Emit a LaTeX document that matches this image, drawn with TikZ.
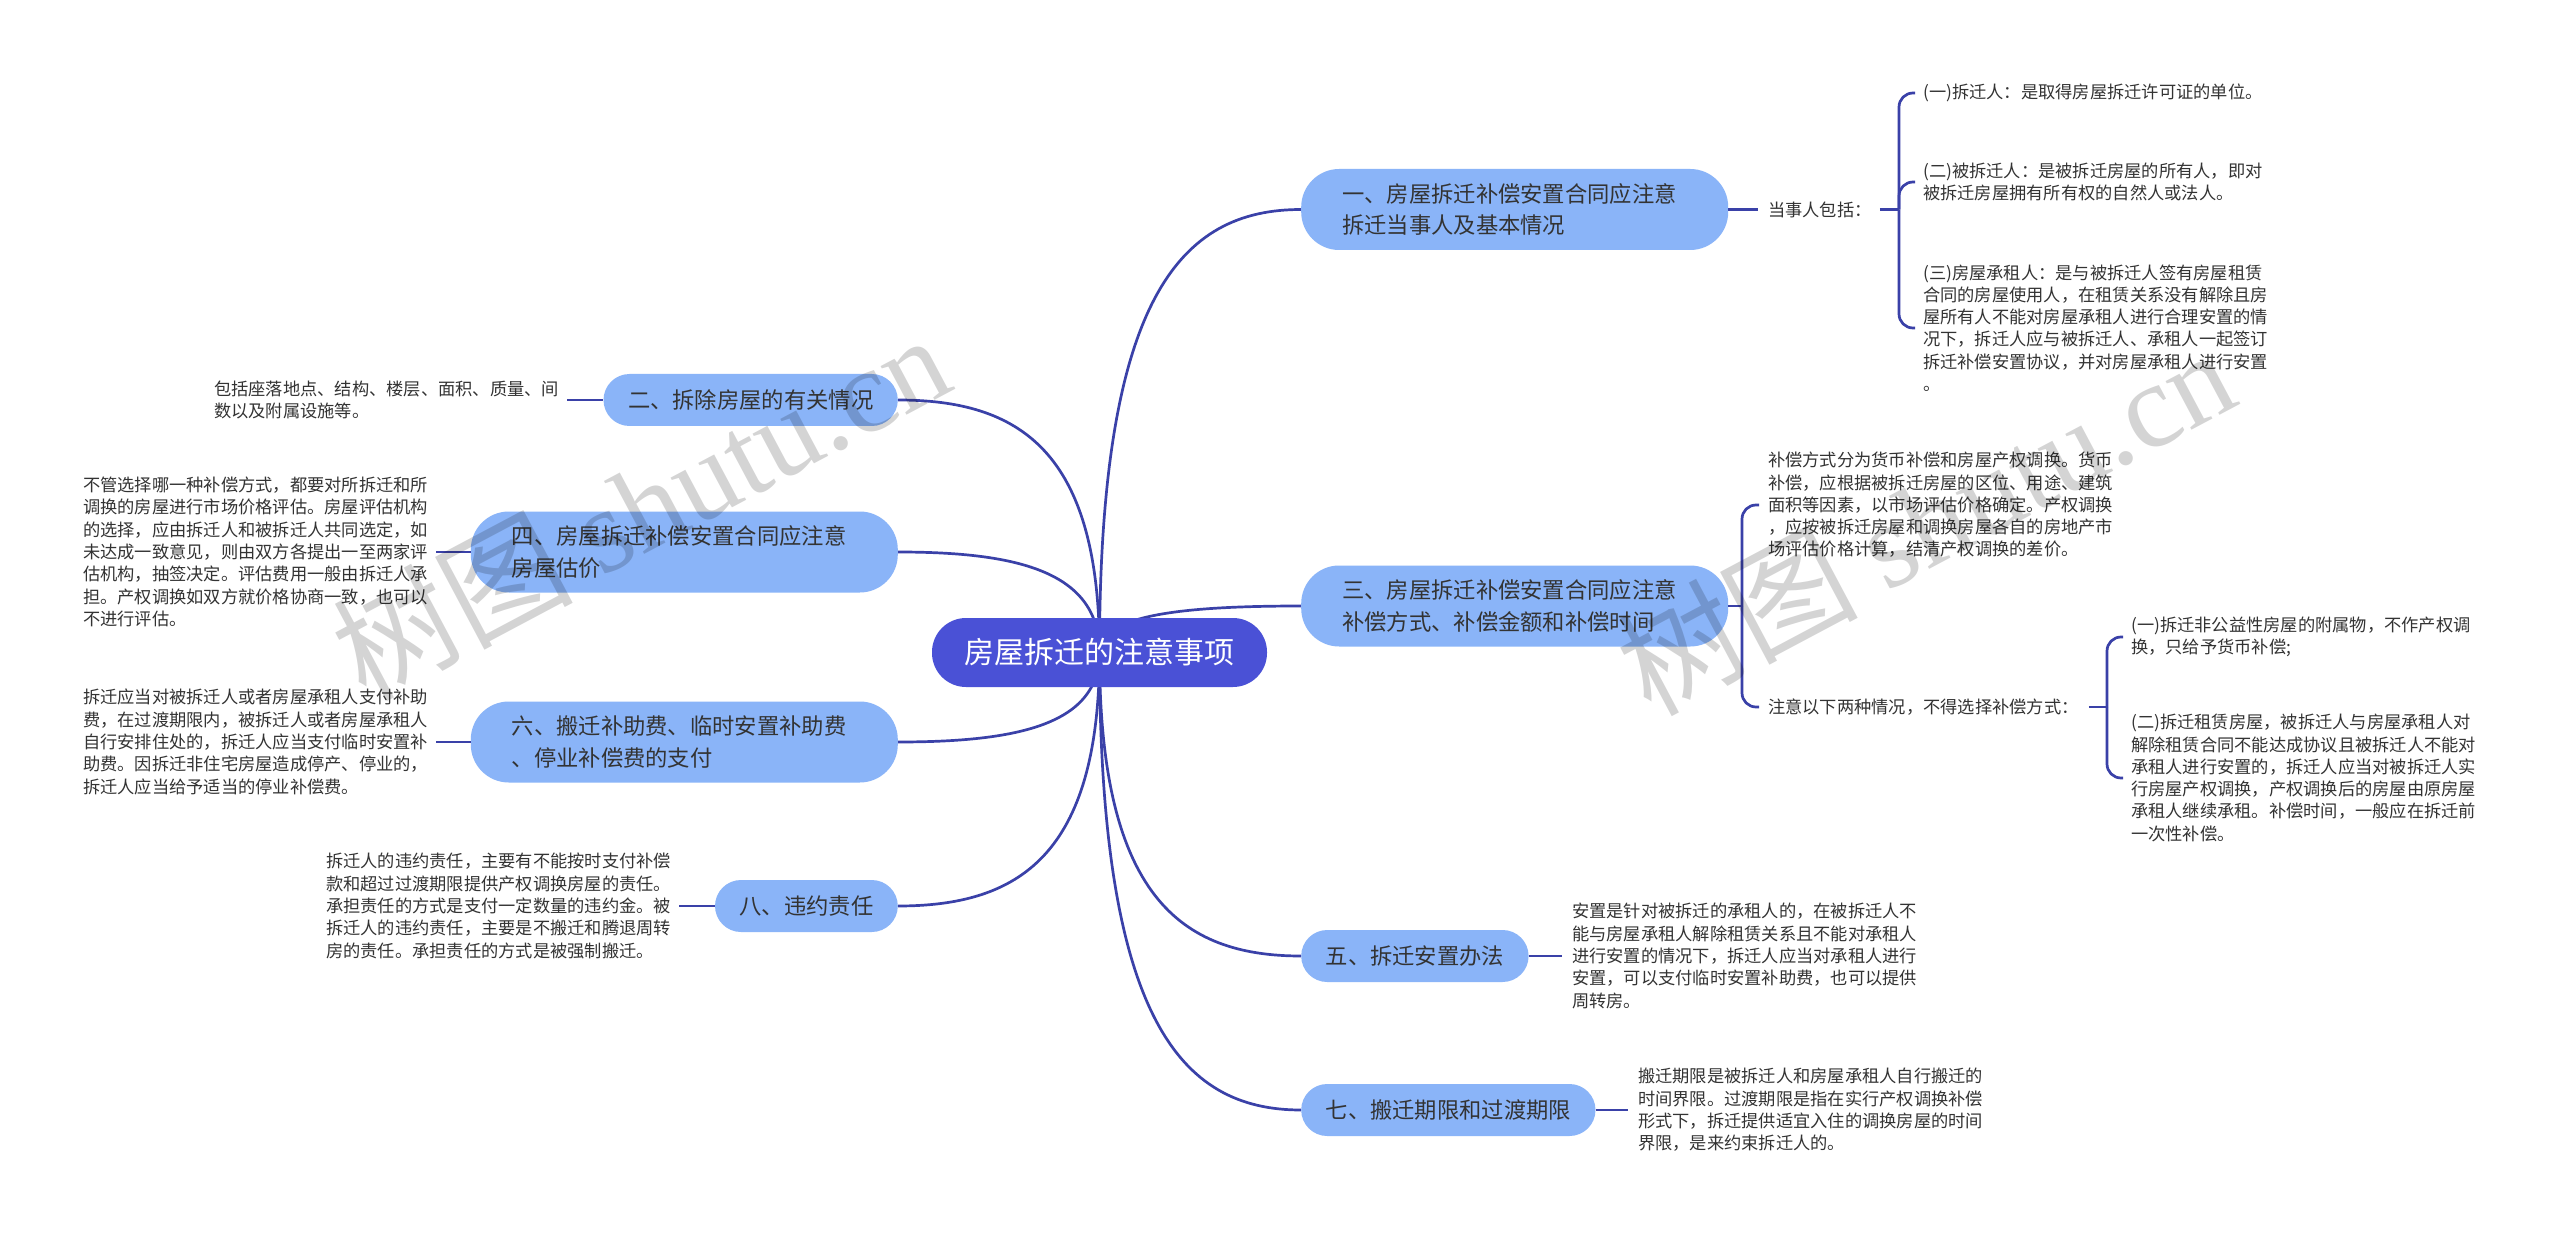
\documentclass[tikz,border=0pt]{standalone}
\usepackage{fontspec}
\setmainfont{Noto Sans CJK SC}
\newfontfamily\wmlatin{Liberation Serif}
\usetikzlibrary{backgrounds}
\definecolor{edgec}{HTML}{3A41A8}
\definecolor{rootc}{HTML}{4A51D6}
\definecolor{branchc}{HTML}{8AB4F8}
\definecolor{txtc}{HTML}{333333}
\tikzset{
  rootnode/.style={rounded corners=34pt, fill=rootc, text=white, font=\fontsize{30}{36}\selectfont, minimum width=335pt, minimum height=69pt, inner sep=0pt},
  branchone/.style={rounded corners=26pt, fill=branchc, text=txtc, font=\fontsize{22.3}{31.7}\selectfont, minimum height=52pt, inner xsep=24.5pt, inner ysep=0pt},
  branchtwo/.style={rounded corners=38pt, fill=branchc, text=txtc, font=\fontsize{22.3}{31.7}\selectfont, minimum height=81pt, text width=345pt, inner xsep=41pt, inner ysep=0pt, align=left},
  leaf/.style={font=\fontsize{17.25}{22.3}\selectfont, text=txtc, align=left, inner sep=0pt, anchor=west},
  edge/.style={draw=edgec, line width=2.7pt},
  bracket/.style={draw=edgec, line width=2.7pt, rounded corners=14pt},
  wmark/.style={rotate=28, text=black, opacity=0.17, font=\fontsize{120}{120}\selectfont, inner sep=0pt}
}
\begin{document}
\begin{tikzpicture}[x=1pt,y=-1pt]
\useasboundingbox (0,0) rectangle (2560,1238);

% root
\node[rootnode] (C) at (1099.5,652.5) {房屋拆迁的注意事项};

% right branches
\node[branchtwo, anchor=west] (N1) at (1301,209.5) {一、房屋拆迁补偿安置合同应注意\\拆迁当事人及基本情况};
\node[branchtwo, anchor=west] (N3) at (1301,606) {三、房屋拆迁补偿安置合同应注意\\补偿方式、补偿金额和补偿时间};
\node[branchone, anchor=west] (N5) at (1301,956) {五、拆迁安置办法};
\node[branchone, anchor=west] (N7) at (1301,1110) {七、搬迁期限和过渡期限};

% left branches
\node[branchone, anchor=east] (N2) at (898,400) {二、拆除房屋的有关情况};
\node[branchtwo, anchor=east] (N4) at (898,552) {四、房屋拆迁补偿安置合同应注意\\房屋估价};
\node[branchtwo, anchor=east] (N6) at (898,742) {六、搬迁补助费、临时安置补助费\\、停业补偿费的支付};
\node[branchone, anchor=east] (N8) at (898,906) {八、违约责任};

% leaves of N1
\node[leaf] (T1) at (1768,209.5) {当事人包括：};
\coordinate (J1) at (1899,209.5);
\node[leaf] (K1a) at (1923,93) {(一)拆迁人：是取得房屋拆迁许可证的单位。};
\node[leaf] (K1b) at (1923,182) {(二)被拆迁人：是被拆迁房屋的所有人，即对\\被拆迁房屋拥有所有权的自然人或法人。};
\node[leaf] (K1c) at (1923,328) {(三)房屋承租人：是与被拆迁人签有房屋租赁\\合同的房屋使用人，在租赁关系没有解除且房\\屋所有人不能对房屋承租人进行合理安置的情\\况下，拆迁人应与被拆迁人、承租人一起签订\\拆迁补偿安置协议，并对房屋承租人进行安置\\。};

% leaves of N3
\coordinate (J3) at (1742,606);
\node[leaf] (L3a) at (1768,505) {补偿方式分为货币补偿和房屋产权调换。货币\\补偿，应根据被拆迁房屋的区位、用途、建筑\\面积等因素，以市场评估价格确定。产权调换\\，应按被拆迁房屋和调换房屋各自的房地产市\\场评估价格计算，结清产权调换的差价。};
\node[leaf] (L3b) at (1768,707) {注意以下两种情况，不得选择补偿方式：};
\coordinate (J3b) at (2107,707);
\node[leaf] (K3a) at (2131,637) {(一)拆迁非公益性房屋的附属物，不作产权调\\换，只给予货币补偿;};
\node[leaf] (K3b) at (2131,778) {(二)拆迁租赁房屋，被拆迁人与房屋承租人对\\解除租赁合同不能达成协议且被拆迁人不能对\\承租人进行安置的，拆迁人应当对被拆迁人实\\行房屋产权调换，产权调换后的房屋由原房屋\\承租人继续承租。补偿时间，一般应在拆迁前\\一次性补偿。};

% leaves of N5, N7
\node[leaf] (L5) at (1572,956) {安置是针对被拆迁的承租人的，在被拆迁人不\\能与房屋承租人解除租赁关系且不能对承租人\\进行安置的情况下，拆迁人应当对承租人进行\\安置，可以支付临时安置补助费，也可以提供\\周转房。};
\node[leaf] (L7) at (1638,1110) {搬迁期限是被拆迁人和房屋承租人自行搬迁的\\时间界限。过渡期限是指在实行产权调换补偿\\形式下，拆迁提供适宜入住的调换房屋的时间\\界限，是来约束拆迁人的。};

% left leaves
\node[leaf] (L2) at (214,400) {包括座落地点、结构、楼层、面积、质量、间\\数以及附属设施等。};
\node[leaf] (L4) at (83,552) {不管选择哪一种补偿方式，都要对所拆迁和所\\调换的房屋进行市场价格评估。房屋评估机构\\的选择，应由拆迁人和被拆迁人共同选定，如\\未达成一致意见，则由双方各提出一至两家评\\估机构，抽签决定。评估费用一般由拆迁人承\\担。产权调换如双方就价格协商一致，也可以\\不进行评估。};
\node[leaf] (L6) at (83,742) {拆迁应当对被拆迁人或者房屋承租人支付补助\\费，在过渡期限内，被拆迁人或者房屋承租人\\自行安排住处的，拆迁人应当支付临时安置补\\助费。因拆迁非住宅房屋造成停产、停业的，\\拆迁人应当给予适当的停业补偿费。};
\node[leaf] (L8) at (326,906) {拆迁人的违约责任，主要有不能按时支付补偿\\款和超过过渡期限提供产权调换房屋的责任。\\承担责任的方式是支付一定数量的违约金。被\\拆迁人的违约责任，主要是不搬迁和腾退周转\\房的责任。承担责任的方式是被强制搬迁。};

\begin{scope}[on background layer]
\fill[white] (0,0) rectangle (2560,1238);
% root to branches
\draw[edge] (C.center) .. controls +(0,-354.4) and +(-121,0) .. (N1.west);
\draw[edge] (C.center) .. controls +(0,-37.2) and +(-121,0) .. (N3.west);
\draw[edge] (C.center) .. controls +(0,242.8) and +(-121,0) .. (N5.west);
\draw[edge] (C.center) .. controls +(0,366) and +(-121,0) .. (N7.west);
\draw[edge] (C.center) .. controls +(0,-202) and +(121,0) .. (N2.east);
\draw[edge] (C.center) .. controls +(0,-80.4) and +(121,0) .. (N4.east);
\draw[edge] (C.center) .. controls +(0,71.6) and +(121,0) .. (N6.east);
\draw[edge] (C.center) .. controls +(0,202.8) and +(121,0) .. (N8.east);
\end{scope}

% branch to leaves
\draw[edge, shorten >=10pt] (N1.east) -- (T1.west);
\draw[edge, shorten <=8pt] (T1.east) -- (J1);
\draw[bracket, shorten >=8pt] (J1) |- (K1a.west);
\draw[bracket, shorten >=8pt] (J1) |- (K1b.west);
\draw[bracket, shorten >=8pt] (J1) |- (K1c.west);

\draw[edge] (N3.east) -- (J3);
\draw[bracket, shorten >=9pt] (J3) |- (L3a.west);
\draw[bracket, shorten >=9pt] (J3) |- (L3b.west);
\draw[edge, shorten <=10pt] (L3b.east) -- (J3b);
\draw[bracket, shorten >=8pt] (J3b) |- (K3a.west);
\draw[bracket, shorten >=8pt] (J3b) |- (K3b.west);

\draw[edge, shorten >=10pt] (N5.east) -- (L5.west);
\draw[edge, shorten >=10pt] (N7.east) -- (L7.west);
\draw[edge, shorten <=8pt] (L2.east) -- (N2.west);
\draw[edge, shorten <=8pt] (L4.east) -- (N4.west);
\draw[edge, shorten <=8pt] (L6.east) -- (N6.west);
\draw[edge, shorten <=8pt] (L8.east) -- (N8.west);

% watermarks
\node[wmark] (W1) at (640,505) {树图 {\wmlatin shutu.cn}};
\node[wmark] (W2) at (1925,520) {树图 {\wmlatin shutu.cn}};
\end{tikzpicture}
\end{document}
